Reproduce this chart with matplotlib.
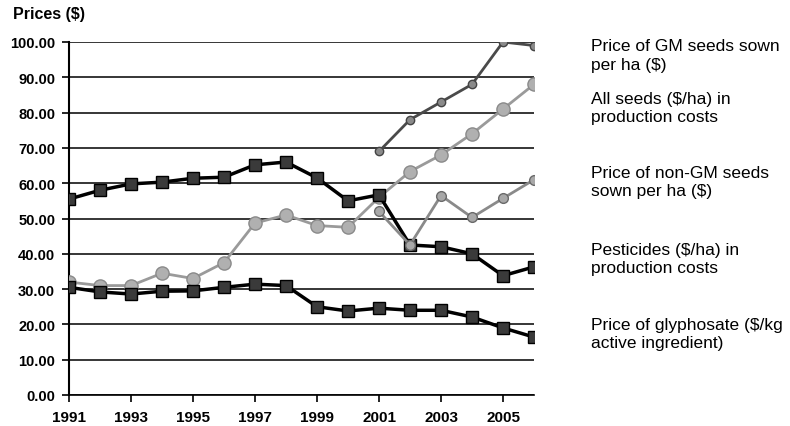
import numpy as np
import matplotlib
matplotlib.use('Agg')
import matplotlib.pyplot as plt

years = list(range(1991, 2007))
years_gm = list(range(2001, 2007))

gm_seeds = [69.0, 78.0, 83.0, 88.0, 100.0, 99.0]
all_seeds = [32.0, 31.0, 31.0, 34.5, 33.0, 37.5, 48.7, 51.0, 48.0, 47.5,
             56.0, 63.3, 68.0, 74.0, 81.0, 88.0]
nongm_seeds = [52.0, 42.5, 56.5, 50.3, 55.7, 61.0]
pesticides = [55.5, 58.0, 59.8, 60.3, 61.4, 61.7, 65.2, 66.0, 61.5, 55.0,
              56.7, 42.5, 42.0, 40.0, 33.8, 36.3]
glyphosate = [30.5, 29.2, 28.6, 29.4, 29.5, 30.5, 31.4, 31.0, 25.0, 23.8,
              24.6, 24.0, 24.0, 22.1, 19.0, 16.4]

labels = ['Price of GM seeds sown\nper ha ($)',
          'All seeds ($/ha) in\nproduction costs',
          'Price of non-GM seeds\nsown per ha ($)',
          'Pesticides ($/ha) in\nproduction costs',
          'Price of glyphosate ($/kg\nactive ingredient)']
label_y = [56, 108.5, 182.5, 259.5, 334.5]

fig = plt.figure(figsize=(7.9, 4.27), dpi=100)
ax = fig.add_axes([69/790, 1-396/427, 465/790, 353/427])

tickfont = dict(family='Liberation Sans', weight='bold', size=10.5)

ax.plot(years, glyphosate, color='black', lw=2.5, marker='s', ms=9,
        mfc='#3a3a3a', mec='black', mew=1, zorder=5)
ax.plot(years, pesticides, color='black', lw=2.5, marker='s', ms=9,
        mfc='#3a3a3a', mec='black', mew=1, zorder=5)
ax.plot(years, all_seeds, color='#9a9a9a', lw=2, marker='o', ms=9.5,
        mfc='#b0b0b0', mec='#8a8a8a', mew=1, zorder=4)
ax.plot(years_gm, nongm_seeds, color='#8a8a8a', lw=2, marker='o', ms=7,
        mfc='#a8a8a8', mec='#6a6a6a', mew=1, zorder=6)
ax.plot(years_gm, gm_seeds, color='#4a4a4a', lw=2, marker='o', ms=6,
        mfc='#8a8a8a', mec='#444444', mew=1, zorder=6)

ax.set_xlim(1991, 2006)
ax.set_ylim(0, 100)
ax.set_yticks(np.arange(0, 101, 10))
ax.set_yticklabels([f'{v:.2f}' for v in np.arange(0, 101, 10)], fontdict=tickfont)
ax.set_xticks(range(1991, 2006, 2))
ax.set_xticklabels([str(y) for y in range(1991, 2006, 2)],
                   fontdict=dict(tickfont, size=11))
ax.yaxis.grid(True, color='black', lw=1.1)
ax.set_axisbelow(True)
for s in ['top', 'right']:
    ax.spines[s].set_visible(False)
ax.spines['left'].set_linewidth(1.5)
ax.spines['bottom'].set_linewidth(1.2)
ax.tick_params(axis='y', length=5, width=1.2, pad=5)
ax.tick_params(axis='x', length=5, width=1.2, pad=6)

fig.text(13/790, 1-15/427, 'Prices ($)', fontdict=dict(tickfont, size=11.5), va='center')

for lab, yy in zip(labels, label_y):
    fig.text(591/790, 1-yy/427, lab, family='Liberation Sans', size=12.5,
             va='center', linespacing=1.27)

plt.savefig('out.png', dpi=100, facecolor='w')
